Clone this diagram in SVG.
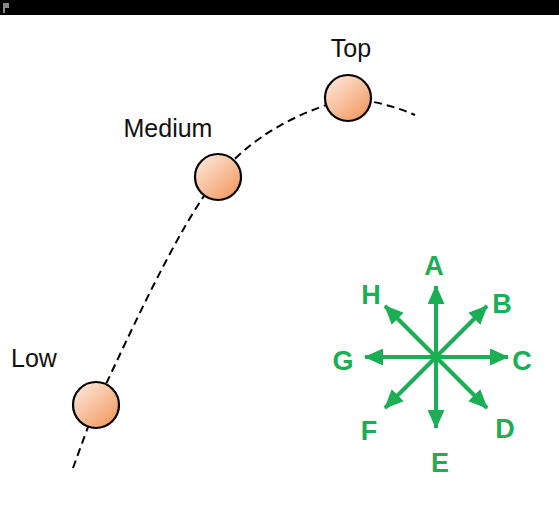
<svg xmlns="http://www.w3.org/2000/svg" width="559" height="514" viewBox="0 0 559 514">
<defs>
<style>
.lbl{font-family:"Liberation Sans",Arial,sans-serif;font-size:25px;fill:#111;text-anchor:middle}
.dir{font-family:"Liberation Sans",Arial,sans-serif;font-size:27px;font-weight:bold;fill:#1aaf54;text-anchor:middle}
.node{stroke:#000;stroke-width:2.2;fill:url(#peach)}
.arr{stroke:#1aaf54;stroke-width:4;fill:none;marker-end:url(#ah)}
.curve{stroke:#000;stroke-width:2;fill:none;stroke-dasharray:8 5}
</style>
<linearGradient id="peach" x1="0.15" y1="0.1" x2="0.85" y2="0.9">
<stop offset="0" stop-color="#fde3d2"/>
<stop offset="1" stop-color="#f39c65"/>
</linearGradient>
<marker id="ah" markerUnits="userSpaceOnUse" markerWidth="19" markerHeight="17" viewBox="0 0 19 17" refX="18" refY="8.5" orient="auto">
<path d="M0,0 L19,8.5 L0,17 Z" fill="#1aaf54"/>
</marker>
</defs>
<rect x="0" y="0" width="559" height="15" fill="#000"/>
<path d="M3,3 L9,3 L9,8 L5,8 L5,13 L3,13 Z" fill="#8a8a8a"/>
<g id="connectors">
<path class="curve" d="M73,468 L96,405 C120,356 176,228 218,177 C260,126 315,108 348,98 Q385,102 415,115"/>
</g>
<g id="node-low"><circle class="node" cx="96" cy="405" r="23"/><text class="lbl" x="34" y="367">Low</text></g>
<g id="node-medium"><circle class="node" cx="218" cy="177" r="23"/><text class="lbl" x="168" y="137">Medium</text></g>
<g id="node-top"><circle class="node" cx="348" cy="98" r="23"/><text class="lbl" x="351" y="57">Top</text></g>
<g id="compass">
<line class="arr" x1="436" y1="357" x2="436" y2="286"/>
<line class="arr" x1="436" y1="357" x2="487" y2="306"/>
<line class="arr" x1="436" y1="357" x2="508" y2="357"/>
<line class="arr" x1="436" y1="357" x2="487" y2="408"/>
<line class="arr" x1="436" y1="357" x2="436" y2="428"/>
<line class="arr" x1="436" y1="357" x2="385" y2="408"/>
<line class="arr" x1="436" y1="357" x2="365" y2="357"/>
<line class="arr" x1="436" y1="357" x2="385" y2="306"/>
<text class="dir" x="434" y="275">A</text>
<text class="dir" x="502" y="313">B</text>
<text class="dir" x="522" y="370">C</text>
<text class="dir" x="505" y="438">D</text>
<text class="dir" x="440" y="472">E</text>
<text class="dir" x="369" y="440">F</text>
<text class="dir" x="343" y="370">G</text>
<text class="dir" x="371" y="304">H</text>
</g>
</svg>
